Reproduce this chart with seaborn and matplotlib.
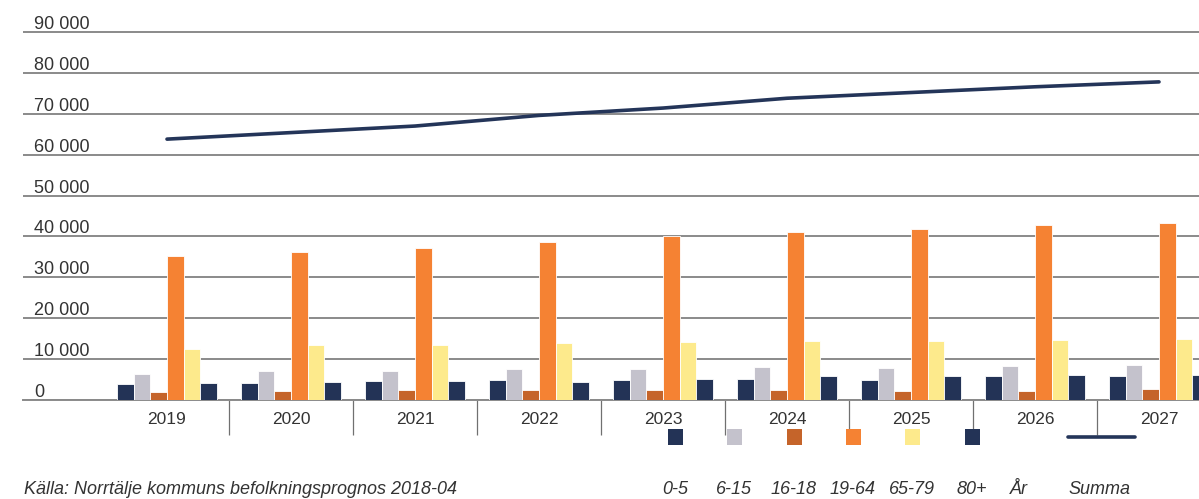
import matplotlib

matplotlib.use("Agg")
import matplotlib.pyplot as plt
import matplotlib.transforms as mtransforms
from matplotlib.patches import Rectangle
from matplotlib.lines import Line2D
import numpy as np
import pandas as pd
import seaborn as sns

sns.set_style("white")
plt.rcParams["font.family"] = ["Liberation Sans", "DejaVu Sans"]

YEARS = ["2019", "2020", "2021", "2022", "2023", "2024", "2025", "2026", "2027"]
AGE_GROUPS = ["0-5", "6-15", "16-18", "19-64", "65-79", "80+"]

age_0_5 = [4000, 4250, 4750, 5000, 5000, 5250, 5000, 5750, 5750]
age_6_15 = [6250, 7000, 7000, 7500, 7500, 8000, 7750, 8250, 8500]
age_16_18 = [2000, 2250, 2500, 2500, 2500, 2500, 2250, 2250, 2750]
age_19_64 = [35250, 36250, 37250, 38750, 40000, 41000, 41750, 42750, 43250]
age_65_79 = [12500, 13500, 13500, 14000, 14250, 14500, 14500, 14750, 15000]
age_80 = [4250, 4500, 4750, 4500, 5250, 5750, 5750, 6000, 6100]
summa = [63800, 65400, 67000, 69600, 71400, 73800, 75200, 76600, 77800]

Y_TICKS = [0, 10000, 20000, 30000, 40000, 50000, 60000, 70000, 80000, 90000]
SOURCE = "Källa: Norrtälje kommuns befolkningsprognos 2018-04"

COLORS = ["#233356", "#c4c2cc", "#c5642a", "#f58233", "#fdea8c", "#233356"]
LINE_COLOR = "#243559"
GRID = "#8a8a8a"
TEXT = "#333333"

df = pd.DataFrame({
    "year": YEARS * len(AGE_GROUPS),
    "group": np.repeat(AGE_GROUPS, len(YEARS)),
    "value": age_0_5 + age_6_15 + age_16_18 + age_19_64 + age_65_79 + age_80,
})

W, H = 1199, 499
fig = plt.figure(figsize=(W / 100, H / 100), dpi=100)
top_px, zero_px = 20, 400
ymax = 90000 * (zero_px - top_px) / (zero_px - 32)
ax = fig.add_axes([23 / W, (H - zero_px) / H, (W - 23) / W, (zero_px - top_px) / H])

sns.barplot(data=df, x="year", y="value", hue="group", hue_order=AGE_GROUPS,
            palette=COLORS, width=0.8, gap=0.0, edgecolor="white", linewidth=0.6,
            saturation=1, legend=False, ax=ax, zorder=3)
sns.lineplot(x=np.arange(len(YEARS)), y=summa, color=LINE_COLOR, linewidth=2.6,
             ax=ax, zorder=4)

ax.set_ylim(0, ymax)
ax.set_xlim((23 - 167) / 124, (W - 167) / 124)
ax.set_xlabel("")
ax.set_ylabel("")

for s in ["top", "right", "left"]:
    ax.spines[s].set_visible(False)
ax.spines["bottom"].set_color(GRID)
ax.spines["bottom"].set_linewidth(1.4)

ax.set_yticks(Y_TICKS)
ax.set_yticklabels([])
ax.tick_params(axis="y", length=0)
ax.grid(axis="y", color=GRID, linewidth=1.4, zorder=0)
ax.set_axisbelow(True)

trans = mtransforms.offset_copy(
    mtransforms.blended_transform_factory(fig.transFigure, ax.transData),
    fig=fig, x=0, y=3, units="dots")
for t in Y_TICKS:
    ax.text(34 / W, t, f"{t:,}".replace(",", " "), transform=trans,
            ha="left", va="baseline", fontsize=13, color=TEXT)

ax.set_xticks(range(len(YEARS)))
ax.set_xticklabels(YEARS, fontsize=12.5, color=TEXT)
ax.tick_params(axis="x", which="major", bottom=False, length=0, pad=9)
ax.set_xticks(np.arange(0.5, len(YEARS) - 1), minor=True)
ax.tick_params(axis="x", which="minor", bottom=True, direction="out",
               length=25, width=0.9, color="#707070")

# legend: swatches above labels
sq_y = H - 437
lab_y = H - 489
centers = [675, 734, 794, 853, 912, 972]
for cx, col, lab in zip(centers, COLORS, AGE_GROUPS):
    fig.patches.append(Rectangle(((cx - 7.5) / W, (sq_y - 8) / H), 15 / W, 16 / H,
                                 transform=fig.transFigure, facecolor=col,
                                 edgecolor="none"))
    fig.text(cx / W, lab_y / H, lab, ha="center", va="center", fontsize=13,
             style="italic", color=TEXT)
fig.text(1019 / W, lab_y / H, "År", ha="center", va="center", fontsize=13,
         style="italic", color=TEXT)
fig.lines.append(Line2D([1068 / W, 1135 / W], [sq_y / H, sq_y / H],
                        transform=fig.transFigure, color=LINE_COLOR, linewidth=2.6))
fig.text(1099 / W, lab_y / H, "Summa", ha="center", va="center", fontsize=13,
         style="italic", color=TEXT)

fig.text(24 / W, lab_y / H, SOURCE, ha="left", va="center", fontsize=13,
         style="italic", color=TEXT)

fig.savefig("out.png", dpi=100)
